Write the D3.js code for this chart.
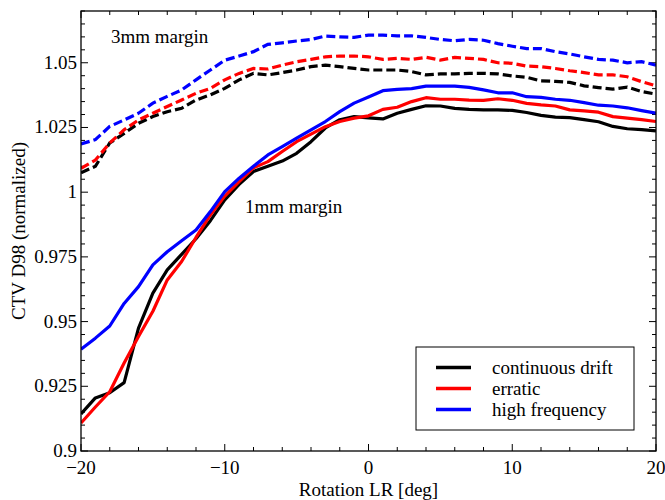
<!DOCTYPE html>
<html><head><meta charset="utf-8">
<script src="https://cdn.jsdelivr.net/npm/d3@7"></script>
<style>
@font-face{font-family:"ChartSerif";src:local("Liberation Serif"),local("LiberationSerif"),local("LiberationSerif-Regular"),local("Times New Roman");}
svg text{font-family:"Liberation Serif","ChartSerif","Times New Roman",Tinos,serif !important;}
</style>
</head><body style="margin:0"><svg id="c" width="665" height="500" style="font-family:'Liberation Serif',serif"></svg>
<script>
const xVals = d3.range(-20, 21, 1);
const driftSolid = [0.9143,0.9205,0.9225,0.9264,0.9475,0.961,0.970,0.976,0.982,0.989,0.997,1.003,1.008,1.010,1.012,1.015,1.0195,1.0248,1.028,1.0292,1.0287,1.0283,1.0305,1.032,1.0334,1.0333,1.0324,1.032,1.0318,1.0318,1.0316,1.0308,1.0297,1.029,1.0288,1.028,1.0272,1.0254,1.0245,1.0242,1.0237];
const erraticSolid = [0.9108,0.917,0.9229,0.934,0.9442,0.954,0.9661,0.9732,0.9825,0.9912,0.9985,1.0041,1.0094,1.0118,1.0157,1.0195,1.0224,1.0253,1.0273,1.0286,1.0295,1.032,1.0328,1.035,1.0365,1.0359,1.0359,1.0356,1.0355,1.0361,1.0355,1.0343,1.0337,1.0333,1.0318,1.0314,1.0309,1.0292,1.0286,1.028,1.0273];
const highSolid = [0.9393,0.9436,0.9483,0.957,0.9635,0.9719,0.977,0.9812,0.9854,0.9925,1.0002,1.0054,1.010,1.0144,1.0176,1.0209,1.0241,1.0273,1.0311,1.0344,1.0368,1.0392,1.0397,1.040,1.041,1.041,1.041,1.0405,1.0395,1.0384,1.0384,1.0369,1.0366,1.0359,1.0355,1.0346,1.0336,1.0333,1.0326,1.0315,1.0305];
const driftDashed = [1.0075,1.010,1.019,1.0227,1.0266,1.0292,1.0311,1.0324,1.0356,1.0376,1.0401,1.0434,1.0459,1.0453,1.0462,1.0472,1.0485,1.0491,1.0485,1.0478,1.0472,1.0472,1.0472,1.0466,1.0453,1.0457,1.0457,1.0459,1.0459,1.0457,1.0449,1.0444,1.043,1.0428,1.0424,1.0411,1.0404,1.0398,1.0406,1.0389,1.0379];
const erraticDashed = [1.0092,1.0124,1.019,1.0241,1.0279,1.0305,1.0331,1.0356,1.0382,1.0401,1.0434,1.0459,1.0478,1.0476,1.0491,1.0504,1.0513,1.0523,1.0526,1.0526,1.0523,1.0513,1.0517,1.0513,1.0521,1.051,1.0521,1.0517,1.0513,1.050,1.0498,1.0487,1.0485,1.0478,1.0469,1.0462,1.0453,1.0453,1.0446,1.0427,1.0411];
const highDashed = [1.0186,1.0203,1.0254,1.0279,1.0305,1.0344,1.037,1.0395,1.0434,1.0472,1.051,1.0526,1.0543,1.0571,1.0577,1.0584,1.059,1.0603,1.060,1.0598,1.0607,1.0607,1.0604,1.0604,1.0598,1.059,1.0585,1.059,1.0587,1.0574,1.0564,1.0555,1.0555,1.0543,1.0534,1.0523,1.0513,1.051,1.050,1.0504,1.0491];
const seriesNames = ["continuous drift","erratic","high frequency"];
const seriesColors = ["#000000","#ff0000","#0000ff"];
const xTicks = [-20,-10,0,10,20];
const yTicks = [0.9,0.925,0.95,0.975,1,1.025,1.05];
const yTickLabels = ["0.9","0.925","0.95","0.975","1","1.025","1.05"];

const svg = d3.select("#c");
const L = 81, R = 656, T = 11, B = 451;
const x = d3.scaleLinear().domain([-20,20]).range([L,R]);
const y = d3.scaleLinear().domain([0.9,1.07]).range([B,T]);
function txt(sel){ return sel.attr("font-size",19).attr("font-family","Liberation Serif"); }

const g = svg.append("g");
const minorX = d3.range(-20,20.001,2);
const minorY = d3.range(0.9,1.0701,0.005);
minorX.forEach(v=>{
  const major = xTicks.includes(Math.round(v));
  const len = major?7:4;
  g.append("line").attr("x1",x(v)).attr("x2",x(v)).attr("y1",B).attr("y2",B-len).attr("stroke","#000").attr("stroke-width",1);
  g.append("line").attr("x1",x(v)).attr("x2",x(v)).attr("y1",T).attr("y2",T+len).attr("stroke","#000").attr("stroke-width",1);
});
minorY.forEach(v=>{
  const major = yTicks.some(t=>Math.abs(t-v)<1e-6);
  const len = major?7:4;
  g.append("line").attr("x1",L).attr("x2",L+len).attr("y1",y(v)).attr("y2",y(v)).attr("stroke","#000").attr("stroke-width",1);
  g.append("line").attr("x1",R).attr("x2",R-len).attr("y1",y(v)).attr("y2",y(v)).attr("stroke","#000").attr("stroke-width",1);
});
xTicks.forEach(v=>{
  txt(g.append("text").attr("x",x(v)).attr("y",474).attr("text-anchor","middle"))
   .text(v<0? "\u2212"+Math.abs(v) : String(v));
});
yTicks.forEach((v,i)=>{
  txt(g.append("text").attr("x",77).attr("y",y(v)+6).attr("text-anchor","end")).text(yTickLabels[i]);
});

svg.append("clipPath").attr("id","pc").append("rect").attr("x",L).attr("y",T).attr("width",R-L).attr("height",B-T);
const line = d3.line().x((d,i)=>x(xVals[i])).y(d=>y(d));
const plot = svg.append("g").attr("clip-path","url(#pc)");
const solid = [driftSolid, erraticSolid, highSolid];
const dashed = [driftDashed, erraticDashed, highDashed];
dashed.forEach((s,i)=>{
  plot.append("path").attr("d",line(s)).attr("fill","none").attr("stroke",seriesColors[i]).attr("stroke-width",3.2).attr("stroke-dasharray","9,4");
});
solid.forEach((s,i)=>{
  plot.append("path").attr("d",line(s)).attr("fill","none").attr("stroke",seriesColors[i]).attr("stroke-width",3.2).attr("stroke-linejoin","round");
});

svg.append("rect").attr("x",L).attr("y",T).attr("width",R-L).attr("height",B-T).attr("fill","none").attr("stroke","#000").attr("stroke-width",1.3);

txt(svg.append("text").attr("x",111).attr("y",43)).text("3mm margin");
txt(svg.append("text").attr("x",245).attr("y",213)).text("1mm margin");

txt(svg.append("text").attr("x",(L+R)/2).attr("y",496).attr("text-anchor","middle")).text("Rotation LR [deg]");
txt(svg.append("text").attr("transform",`translate(25,${(T+B)/2}) rotate(-90)`).attr("text-anchor","middle")).text("CTV D98 (normalized)");

const lg = svg.append("g");
lg.append("rect").attr("x",416).attr("y",347).attr("width",218).attr("height",83).attr("fill","#fff").attr("stroke","#000").attr("stroke-width",1);
seriesNames.forEach((n,i)=>{
  const yy = 367.5 + i*21;
  lg.append("line").attr("x1",436).attr("x2",471).attr("y1",yy).attr("y2",yy).attr("stroke",seriesColors[i]).attr("stroke-width",3.5);
  txt(lg.append("text").attr("x",492).attr("y",yy+6)).text(n);
});
</script></body></html>
